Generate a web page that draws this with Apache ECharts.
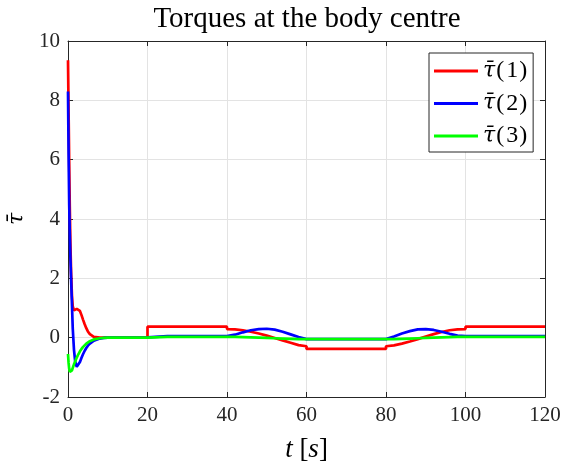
<!DOCTYPE html>
<html>
<head>
<meta charset="utf-8">
<script src="https://cdn.jsdelivr.net/npm/echarts@6/dist/echarts.min.js"></script>
<style>
  html, body { margin: 0; padding: 0; background: #fff; }
  #chart { width: 564px; height: 465px; }
</style>
</head>
<body>
<div id="chart"></div>
<script>
// Sample times [s]; repeated times mark the step changes in the torque commands.
const time = [
  0, 0.15, 0.3, 0.45, 0.6, 0.8, 1.0, 1.2, 1.5, 1.8, 2.2, 2.6, 3.0, 3.4, 3.8, 4.2, 4.6, 5.0, 5.5, 6.0, 6.5, 7.0, 8, 9, 10, 12, 15,
  20, 20, 25, 30, 35,
  40, 40, 42, 44, 46, 48, 50, 52, 54, 56, 58,
  60, 60, 65, 70, 75,
  80, 80, 82, 84, 86, 88, 90, 92, 94, 96, 98,
  100, 100, 105, 110, 115, 120
];

// Torque component 1
const tau1 = [
  9.35, 7.6, 5.9, 4.4, 3.2, 2.1, 1.4, 1.05, 0.92, 0.93, 0.97, 0.98, 0.9, 0.76, 0.6, 0.45, 0.32, 0.21, 0.12, 0.06, 0.03, 0.01, 0, 0, 0, 0, 0,
  0, 0.37, 0.37, 0.37, 0.37,
  0.37, 0.29, 0.28, 0.25, 0.2, 0.14, 0.07, -0.01, -0.09, -0.17, -0.25,
  -0.29, -0.38, -0.38, -0.38, -0.38,
  -0.38, -0.29, -0.26, -0.2, -0.13, -0.05, 0.04, 0.12, 0.19, 0.25, 0.28,
  0.29, 0.37, 0.37, 0.37, 0.37, 0.37
];

// Torque component 2
const tau2 = [
  8.3, 6.2, 4.5, 3.5, 2.7, 1.9, 1.1, 0.3, -0.4, -0.8, -0.98, -0.95, -0.82, -0.68, -0.55, -0.44, -0.35, -0.27, -0.2, -0.14, -0.1, -0.07, -0.03, -0.01, 0, 0, 0,
  0.01, 0.05, 0.05, 0.05, 0.05,
  0.05, 0.05, 0.1, 0.18, 0.25, 0.29, 0.3, 0.27, 0.2, 0.11, 0.02,
  -0.05, -0.05, -0.05, -0.05, -0.05,
  -0.05, -0.05, 0.04, 0.14, 0.22, 0.28, 0.29, 0.26, 0.2, 0.13, 0.07,
  0.05, 0.05, 0.05, 0.05, 0.05, 0.05
];

// Torque component 3
const tau3 = [
  -0.55, -0.85, -1.05, -1.15, -1.2, -1.18, -1.1, -1.02, -0.9, -0.8, -0.67, -0.56, -0.46, -0.38, -0.31, -0.25, -0.2, -0.16, -0.12, -0.08, -0.06, -0.04, -0.02, -0.01, 0, 0, 0,
  0, 0.03, 0.03, 0.03, 0.03,
  0.03, 0.03, 0.03, 0.02, 0.01, 0.0, -0.01, -0.02, -0.03, -0.04, -0.05,
  -0.05, -0.05, -0.05, -0.05, -0.05,
  -0.05, -0.05, -0.05, -0.04, -0.03, -0.02, -0.01, 0.0, 0.01, 0.02, 0.03,
  0.03, 0.03, 0.03, 0.03, 0.03, 0.03
];

const xTicks = { min: 0, max: 120, interval: 20 };
const yTicks = { min: -2, max: 10, interval: 2 };

const seriesNames = ['\u03c4\u0304(1)', '\u03c4\u0304(2)', '\u03c4\u0304(3)'];
const seriesColors = ['#ff0000', '#0000ff', '#00ff00'];
const seriesValues = [tau1, tau2, tau3];

const SERIF = '"Liberation Serif", "DejaVu Serif", serif';
const MATH = '"DejaVu Serif", serif';
const AXIS_COLOR = '#262626';
const GRID_COLOR = '#e3e3e3';

const chart = echarts.init(document.getElementById('chart'), null, { renderer: 'canvas' });

const mainAxisCommon = {
  type: 'value',
  axisLine: { show: true, onZero: false, lineStyle: { color: AXIS_COLOR, width: 1 } },
  axisTick: { show: true, inside: true, length: 5, lineStyle: { color: AXIS_COLOR } },
  splitLine: { show: true, lineStyle: { color: GRID_COLOR, width: 1 } },
  axisLabel: { color: AXIS_COLOR, fontFamily: SERIF, fontSize: 21, margin: 8 }
};
const boxAxisCommon = {
  type: 'value',
  axisLine: { show: true, onZero: false, lineStyle: { color: AXIS_COLOR, width: 1 } },
  axisTick: { show: true, inside: true, length: 5, lineStyle: { color: AXIS_COLOR } },
  splitLine: { show: false },
  axisLabel: { show: false }
};

chart.setOption({
  animation: false,
  backgroundColor: '#ffffff',
  grid: { left: 68, right: 19, top: 41, bottom: 68, containLabel: false, outerBoundsMode: 'none' },
  graphic: [{
    type: 'text',
    x: 307,
    y: 19,
    style: {
      text: 'Torques at the body centre',
      fill: '#000',
      font: '29px ' + SERIF,
      textAlign: 'center',
      textVerticalAlign: 'middle'
    }
  }],
  legend: {
    orient: 'vertical',
    left: 429,
    top: 53,
    padding: [6, 5, 4, 5],
    itemGap: 8.5,
    itemWidth: 44,
    itemHeight: 3,
    icon: 'rect',
    backgroundColor: '#ffffff',
    borderColor: AXIS_COLOR,
    borderWidth: 1,
    borderRadius: 0,
    data: seriesNames,
    formatter: function (name) {
      return '{i|\u03c4\u0304}{p|(}{n|' + name.charAt(3) + '}{p|)}';
    },
    textStyle: {
      color: '#000',
      fontFamily: SERIF,
      fontSize: 24,
      lineHeight: 24,
      rich: {
        i: { fontFamily: MATH, fontSize: 22, fontStyle: 'italic', lineHeight: 24, padding: [0, 1, 0, 0] },
        p: { fontFamily: SERIF, fontSize: 24, lineHeight: 24, padding: [0, 1, 0, 0] },
        n: { fontFamily: SERIF, fontSize: 24, lineHeight: 24, padding: [0, 1, 0, 1] }
      }
    }
  },
  xAxis: [
    Object.assign({}, mainAxisCommon, xTicks, {
      position: 'bottom',
      name: '{i|t} [{i|s}]',
      nameLocation: 'middle',
      nameGap: 39,
      nameTextStyle: {
        color: '#000',
        fontFamily: SERIF,
        fontSize: 27,
        rich: { i: { fontFamily: SERIF, fontSize: 27, fontStyle: 'italic' } }
      }
    }),
    Object.assign({}, boxAxisCommon, xTicks, { position: 'top' })
  ],
  yAxis: [
    Object.assign({}, mainAxisCommon, yTicks, {
      position: 'left',
      name: '\u03c4\u0304',
      nameLocation: 'middle',
      nameGap: 38,
      nameRotate: 90,
      nameTextStyle: { color: '#000', fontFamily: MATH, fontSize: 22, fontStyle: 'italic' }
    }),
    Object.assign({}, boxAxisCommon, yTicks, { position: 'right' })
  ],
  series: seriesNames.map(function (name, k) {
    return {
      name: name,
      type: 'line',
      xAxisIndex: 0,
      yAxisIndex: 0,
      showSymbol: false,
      symbol: 'none',
      smooth: false,
      color: seriesColors[k],
      lineStyle: { color: seriesColors[k], width: 2.7 },
      data: time.map(function (t, i) { return [t, seriesValues[k][i]]; })
    };
  })
});
</script>
</body>
</html>
